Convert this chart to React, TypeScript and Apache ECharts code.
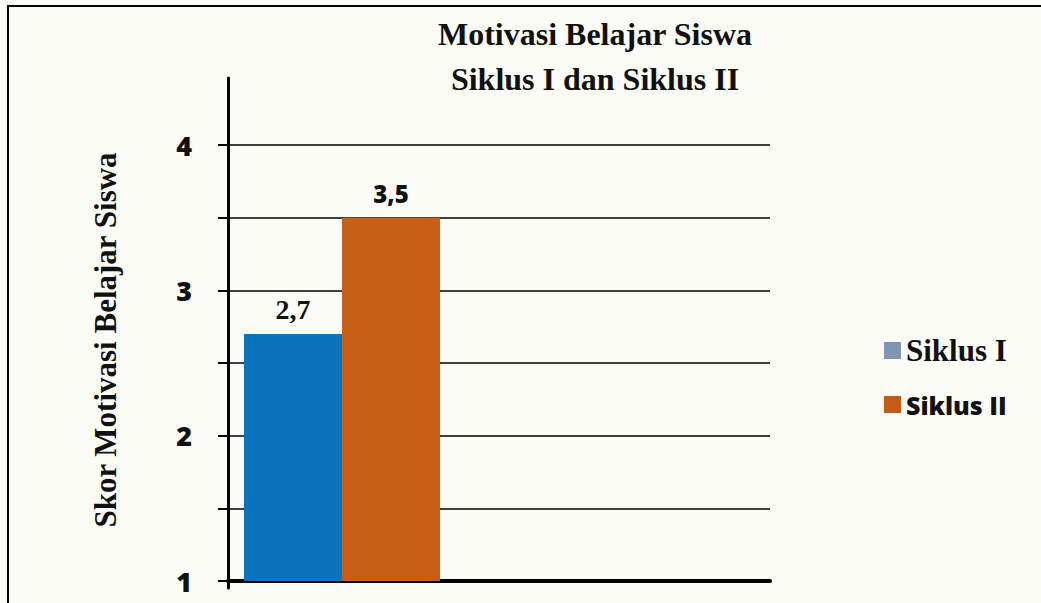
import { useEffect, useRef } from "react";
import * as echarts from "echarts";

const categories = ["Motivasi Belajar Siswa"];
const seriesNames = ["Siklus I", "Siklus II"];
const siklusI = [2.7];
const siklusII = [3.5];
const yTickLabels = [1, 2, 3, 4];
const titleLines = ["Motivasi Belajar Siswa", "Siklus I dan Siklus II"];
const yAxisTitle = "Skor Motivasi Belajar Siswa";

const SERIF = "Liberation Serif";
const SANS = "Open Sans";

export default function App() {
  const ref = useRef<HTMLDivElement>(null);
  useEffect(() => {
    document.body.style.margin = "0";
    if (!ref.current) return;
    const chart = echarts.init(ref.current, undefined, { renderer: "svg" });
    const fmt = (v: number) => String(v).replace(".", ",");
    chart.setOption({
      animation: false,
      backgroundColor: "#fcfcf7",
      title: {
        text: titleLines.join("\n"),
        left: 590,
        top: 6,
        textAlign: "center",
        textStyle: {
          fontFamily: SERIF,
          fontWeight: "bold",
          fontSize: 32,
          lineHeight: 45,
          color: "#111",
        },
      },
      legend: {
        orient: "vertical",
        left: 879,
        top: 330,
        itemWidth: 17,
        itemHeight: 17,
        itemGap: 26,
        icon: "rect",
        data: [
          {
            name: seriesNames[0],
            itemStyle: { color: "#7f95b3" },
            textStyle: { fontFamily: SERIF, fontWeight: "bold", fontSize: 31, color: "#111" },
          },
          {
            name: seriesNames[1],
            itemStyle: { color: "#c55c13" },
            textStyle: { fontFamily: SANS, fontWeight: 800, fontSize: 25, color: "#111" },
          },
        ],
      },
      grid: [
        { left: 228, top: 145, width: 542, height: 436 },
        { left: 228, top: 145, width: 228, height: 436 },
        { left: 228, top: 78, width: 10, height: 510 },
      ],
      xAxis: [
        {
          gridIndex: 0,
          type: "value",
          min: 0,
          max: 1,
          axisLine: { show: true, onZero: false, lineStyle: { color: "#000", width: 4 } },
          axisTick: { show: false },
          axisLabel: { show: false },
          splitLine: { show: false },
        },
        { gridIndex: 1, type: "category", data: categories, show: false },
        { gridIndex: 2, type: "value", min: 0, max: 1, show: false },
      ],
      yAxis: [
        {
          gridIndex: 0,
          type: "value",
          min: 1,
          max: 4,
          interval: 0.5,
          axisLine: { show: false },
          axisTick: { show: true, length: 10, lineStyle: { color: "#000", width: 2 } },
          axisLabel: {
            formatter: (v: number) => (yTickLabels.includes(v) ? String(v) : ""),
            fontFamily: SANS,
            fontWeight: 800,
            fontSize: 27,
            color: "#111",
            margin: 36,
          },
          splitLine: { show: true, lineStyle: { color: "#000", width: 1.5 } },
        },
        { gridIndex: 1, type: "value", min: 1, max: 4, show: false },
        {
          gridIndex: 2,
          type: "value",
          min: 0,
          max: 1,
          axisLine: { show: true, onZero: false, lineStyle: { color: "#000", width: 3 } },
          axisTick: { show: false },
          axisLabel: { show: false },
          splitLine: { show: false },
        },
      ],
      series: [
        {
          name: seriesNames[0],
          type: "bar",
          xAxisIndex: 1,
          yAxisIndex: 1,
          data: siklusI,
          barWidth: 98,
          barGap: "0%",
          itemStyle: { color: "#0b72bd" },
          label: {
            show: true,
            position: "top",
            distance: 10,
            formatter: (p: any) => fmt(p.value),
            fontFamily: SERIF,
            fontWeight: "bold",
            fontSize: 28,
            color: "#111",
          },
        },
        {
          name: seriesNames[1],
          type: "bar",
          xAxisIndex: 1,
          yAxisIndex: 1,
          data: siklusII,
          barWidth: 98,
          barGap: "0%",
          itemStyle: { color: "#c65f15" },
          label: {
            show: true,
            position: "top",
            distance: 12,
            formatter: (p: any) => fmt(p.value),
            fontFamily: SANS,
            fontWeight: 800,
            fontSize: 24,
            color: "#111",
          },
        },
      ],
      graphic: [
        { type: "line", shape: { x1: 8, y1: 6, x2: 1041, y2: 6 }, style: { stroke: "#000", lineWidth: 2 } },
        { type: "line", shape: { x1: 8, y1: 5, x2: 8, y2: 603 }, style: { stroke: "#000", lineWidth: 2 } },
        {
          type: "text",
          x: 105,
          y: 340,
          rotation: Math.PI / 2,
          style: {
            text: yAxisTitle,
            align: "center",
            verticalAlign: "middle",
            fontFamily: SERIF,
            fontWeight: "bold",
            fontSize: 31,
            fill: "#111",
          },
        },
      ],
    });
    return () => chart.dispose();
  }, []);
  return <div ref={ref} style={{ width: 1041, height: 603 }} />;
}
